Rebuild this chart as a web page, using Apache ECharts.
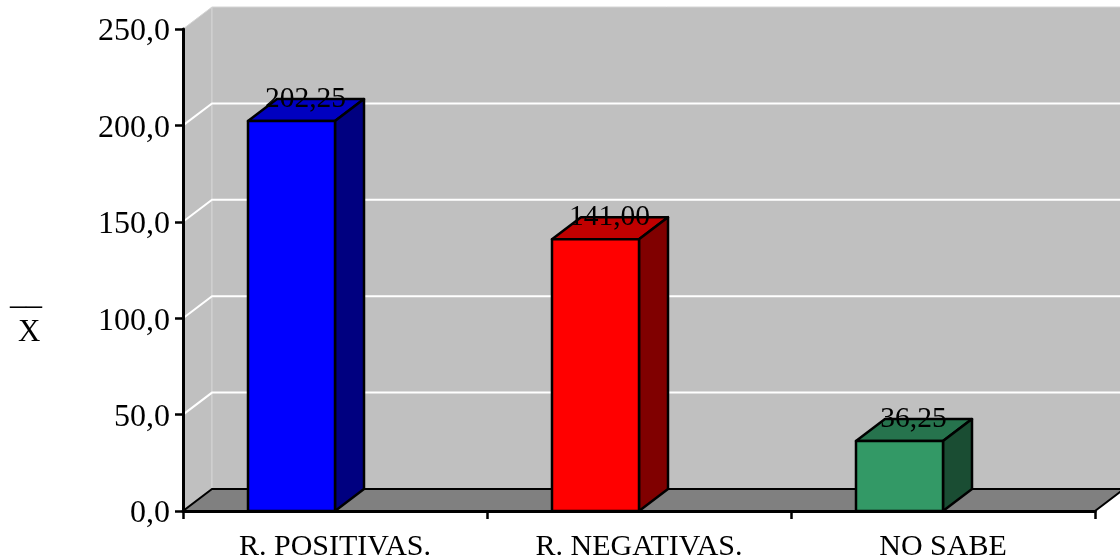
<!DOCTYPE html>
<html><head><meta charset="utf-8">
<style>html,body{margin:0;padding:0;background:#fff}#c{width:1120px;height:560px}</style>
<script src="https://cdn.jsdelivr.net/npm/echarts@6/dist/echarts.min.js"></script>
</head><body><div id="c"></div>
<script>
const categories = ['R. POSITIVAS.', 'R. NEGATIVAS.', 'NO SABE'];
const values = [202.25, 141.00, 36.25];
const valueLabels = ['202,25', '141,00', '36,25'];
const yTicks = [0, 50, 100, 150, 200, 250];
const yAxisTitleBar = '__';
const yAxisTitle = 'X';

const faceColors = ['#0000ff', '#ff0000', '#339966'];
const topColors = ['#0000c0', '#c00000', '#26734d'];
const sideColors = ['#000080', '#800000', '#1a4d33'];
const FONT = '"Liberation Serif","Times New Roman",serif';
const DX = 29, DY = 22;

const chart = echarts.init(document.getElementById('c'));

function renderBackdrop(params, api) {
  const cs = params.coordSys;
  const l = cs.x, r = cs.x + cs.width, t = cs.y, b = cs.y + cs.height;
  const children = [
    {type:'polygon', shape:{points:[[l,b],[l+DX,b-DY],[l+DX,t-DY],[l,t]]},
     style:{fill:'#c0c0c0', stroke:'#d4d4d4', lineWidth:1}},
    {type:'rect', shape:{x:l+DX,y:t-DY,width:r-l,height:b-t},
     style:{fill:'#c0c0c0', stroke:'#d4d4d4', lineWidth:1}}
  ];
  yTicks.forEach(function (tick) {
    if (tick === 0 || tick === 250) return;
    const y = api.coord([0, tick])[1];
    children.push({type:'polyline', shape:{points:[[l,y],[l+DX,y-DY],[r+DX,y-DY]]},
      style:{fill:'none', stroke:'#ffffff', lineWidth:2}});
  });
  children.push({type:'polygon', shape:{points:[[l,b],[r,b],[r+DX,b-DY],[l+DX,b-DY]]},
    style:{fill:'#808080', stroke:'#000000', lineWidth:2}});
  return {type:'group', children:children};
}

function renderBar(params, api) {
  const i = params.dataIndex;
  const pt = api.coord([api.value(0), api.value(1)]);
  const base = api.coord([api.value(0), 0]);
  const band = api.size([1, 0])[0];
  const w = band * 0.2862;
  const x0 = pt[0] - band * 0.2862;
  const x1 = x0 + w, yT = pt[1], yB = base[1];
  const line = {stroke:'#000000', lineWidth:2.5, lineJoin:'round'};
  return {type:'group', children:[
    {type:'polygon', shape:{points:[[x0,yT],[x1,yT],[x1+DX,yT-DY],[x0+DX,yT-DY]]},
     style:Object.assign({fill:topColors[i]}, line)},
    {type:'polygon', shape:{points:[[x1,yT],[x1+DX,yT-DY],[x1+DX,yB-DY],[x1,yB]]},
     style:Object.assign({fill:sideColors[i]}, line)},
    {type:'rect', shape:{x:x0,y:yT,width:w,height:yB-yT},
     style:Object.assign({fill:faceColors[i]}, line)},
    {type:'text', style:{text:valueLabels[i], x:x0+w/2+14, y:yT-DY, align:'center',
      verticalAlign:'middle', fill:'#000000', font:'29.5px '+FONT}}
  ]};
}

chart.setOption({
  animation:false,
  backgroundColor:'#ffffff',
  grid:{left:183, right:25, top:29, bottom:49, containLabel:false, outerBoundsMode:'none'},
  xAxis:{type:'category', data:categories, z:10,
    axisLine:{lineStyle:{color:'#000', width:3}},
    axisTick:{show:true, length:8, alignWithLabel:false, lineStyle:{color:'#000', width:2.5}},
    axisLabel:{color:'#000', fontFamily:FONT, fontSize:30, margin:21, interval:0},
    splitLine:{show:false}},
  yAxis:{type:'value', min:0, max:250, interval:50, z:10,
    axisLine:{show:true, lineStyle:{color:'#000', width:3}},
    axisTick:{show:true, length:8, lineStyle:{color:'#000', width:2.5}},
    axisLabel:{color:'#000', fontFamily:FONT, fontSize:32, margin:13, verticalAlign:'top', lineHeight:6,
      formatter:function(v){return v.toFixed(1).replace('.', ',');}},
    splitLine:{show:false}},
  graphic:[
    {type:'text', left:10, top:280, style:{text:yAxisTitleBar, fill:'#000', font:'32px '+FONT}},
    {type:'text', left:18, top:317, style:{text:yAxisTitle, fill:'#000', font:'31px '+FONT}}
  ],
  series:[
    {type:'custom', silent:true, z:1, renderItem:renderBackdrop, data:[[0,0]], encode:{x:0,y:1}},
    {type:'custom', silent:true, z:2, renderItem:renderBar,
     data:values.map(function(v,i){return [i,v];}), encode:{x:0,y:1}}
  ]
});
</script></body></html>
